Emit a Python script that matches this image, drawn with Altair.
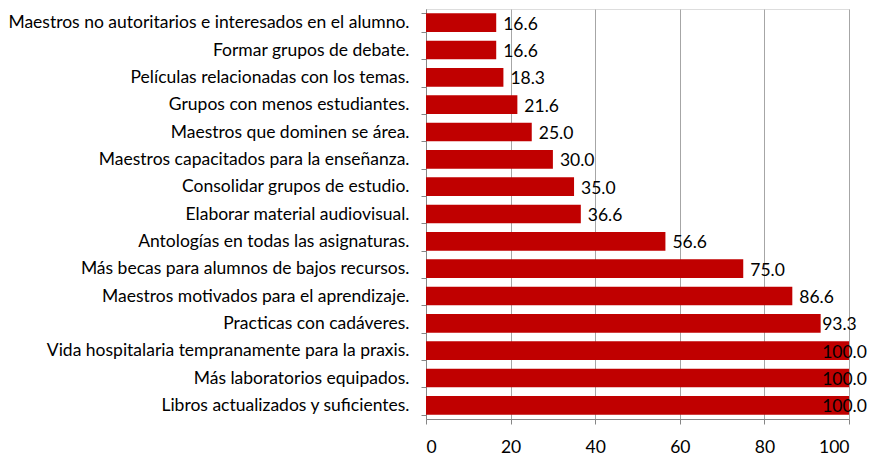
import altair as alt
import pandas as pd

categories = [
    "Maestros no autoritarios e interesados en el alumno.",
    "Formar grupos de debate.",
    "Películas relacionadas con los temas.",
    "Grupos con menos estudiantes.",
    "Maestros que dominen se área.",
    "Maestros capacitados para la enseñanza.",
    "Consolidar grupos de estudio.",
    "Elaborar material audiovisual.",
    "Antologías en todas las asignaturas.",
    "Más becas para alumnos de bajos recursos.",
    "Maestros motivados para el aprendizaje.",
    "Practicas con cadáveres.",
    "Vida hospitalaria tempranamente para la praxis.",
    "Más laboratorios equipados.",
    "Libros actualizados y suficientes.",
]
values = [16.6, 16.6, 18.3, 21.6, 25.0, 30.0, 35.0, 36.6, 56.6, 75.0, 86.6, 93.3, 100.0, 100.0, 100.0]
x_ticks = [0, 20, 40, 60, 80, 100]

df = pd.DataFrame({"cat": categories, "value": values})

FONT = "Lato"
FS = 17.5

y_enc = alt.Y(
    "cat:N",
    sort=None,
    title=None,
    scale=alt.Scale(paddingInner=0.32, paddingOuter=0.16),
    axis=alt.Axis(
        domainColor="#868686",
        tickColor="#868686",
        tickSize=5,
        tickBand="extent",
        labelPadding=12,
        labelFont=FONT,
        labelFontSize=FS,
        labelColor="#000000",
        labelLimit=500,
        grid=False,
    ),
)

x_scale = alt.Scale(domain=[0, 100], nice=False)

bars = alt.Chart(df).mark_bar(color="#C00000").encode(
    x=alt.X(
        "value:Q",
        scale=x_scale,
        title=None,
        axis=alt.Axis(
            values=x_ticks,
            format="d",
            domainColor="#868686",
            tickColor="#868686",
            tickSize=5,
            labelPadding=14,
            labelFont=FONT,
            labelFontSize=FS,
            labelColor="#000000",
            gridColor="#A6A6A6",
            gridWidth=1,
        ),
    ),
    y=y_enc,
)

labels = alt.Chart(df).transform_calculate(
    pos="min(datum.value, 92.0)",
    lab="format(datum.value, '.1f')",
).mark_text(
    align="left", baseline="middle", dx=7, dy=2, font=FONT, fontSize=FS, color="#000000"
).encode(
    x=alt.X("pos:Q", scale=x_scale),
    y=alt.Y("cat:N", sort=None),
    text="lab:N",
)

chart = (
    alt.layer(bars, labels)
    .properties(
        width=423,
        height=410,
        autosize=alt.AutoSizeParams(type="none"),
        padding={"left": 418, "top": 1, "right": 19, "bottom": 37},
    )
    .configure_view(stroke=None)
    .configure(background="#FFFFFF")
)

chart.save("out.html", embed_options={"renderer": "svg", "actions": False})
